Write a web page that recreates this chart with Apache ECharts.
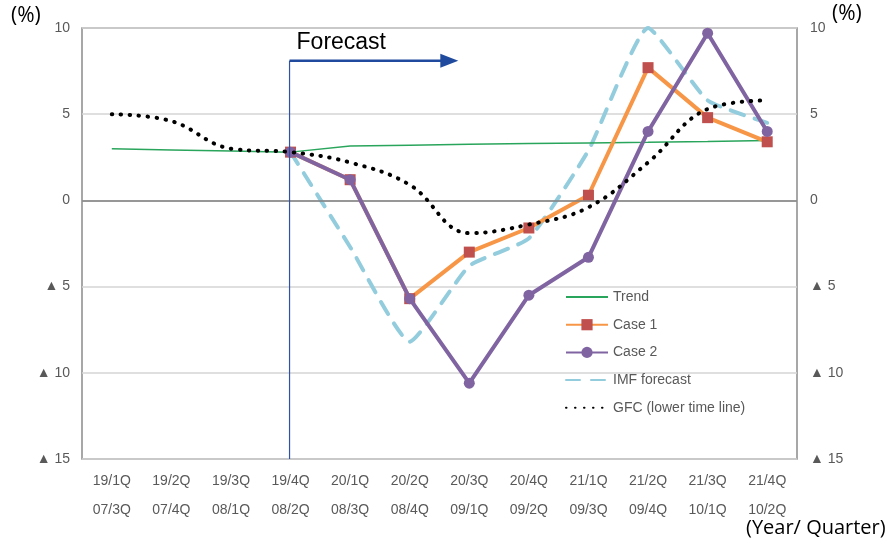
<!DOCTYPE html>
<html><head><meta charset="utf-8">
<script src="https://cdn.jsdelivr.net/npm/echarts@6/dist/echarts.min.js"></script>
<style>html,body{margin:0;padding:0;background:#fff}#c{width:895px;height:542px}</style>
</head><body><div id="c"></div>
<script>
const categories = ['19/1Q','19/2Q','19/3Q','19/4Q','20/1Q','20/2Q','20/3Q','20/4Q','21/1Q','21/2Q','21/3Q','21/4Q'];
const gfcQuarters = ['07/3Q','07/4Q','08/1Q','08/2Q','08/3Q','08/4Q','09/1Q','09/2Q','09/3Q','09/4Q','10/1Q','10/2Q'];
const trend = [3.0, 2.93, 2.87, 2.8, 3.15, 3.2, 3.25, 3.3, 3.33, 3.37, 3.42, 3.48];
const case1 = [null, null, null, 2.8, 1.2, -5.7, -3.0, -1.6, 0.3, 7.7, 4.8, 3.4];
const case2 = [null, null, null, 2.8, 1.2, -5.7, -10.6, -5.5, -3.3, 4.0, 9.7, 4.0];
const imf = [null, null, null, 2.8, -2.7, -8.2, -3.8, -2.2, 2.9, 10.0, 5.8, 4.5];
const gfc = [5.0, 4.6, 3.0, 2.8, 2.2, 0.9, -1.9, -1.4, -0.4, 2.2, 5.3, 5.8];
const yTicks = [-15, -10, -5, 0, 5, 10];

const FONT = '"Liberation Sans", Arial, sans-serif';
const FONT2 = '"Open Sans", sans-serif';
const fmtY = v => v < 0 ? '\u25B2 ' + (-v) : String(v);
const labelCats = categories.map((c, i) => c + '\n' + gfcQuarters[i]);

const chart = echarts.init(document.getElementById('c'));
const yAxisBase = {
  type: 'value', min: -15, max: 10, interval: 5,
  axisLine: {show: false}, axisTick: {show: false},
  splitLine: {show: true, lineStyle: {color: '#d4d4d4', width: 1.5}},
  axisLabel: {color: '#595959', fontSize: 14, fontFamily: FONT, formatter: fmtY}
};
chart.setOption({
  animation: false,
  grid: {left: 82, right: 98, top: 28, bottom: 83, show: true, borderColor: '#8a8a8a', borderWidth: 1.5},
  xAxis: {
    type: 'category', data: labelCats, boundaryGap: true,
    axisLine: {show: false}, axisTick: {show: false},
    axisLabel: {color: '#595959', fontSize: 14, fontFamily: FONT, lineHeight: 29, margin: 8, interval: 0}
  },
  yAxis: [
    Object.assign({}, yAxisBase, {position: 'left', axisLabel: Object.assign({}, yAxisBase.axisLabel, {margin: 12})}),
    Object.assign({}, yAxisBase, {position: 'right', splitLine: {show: false}, axisLabel: Object.assign({}, yAxisBase.axisLabel, {margin: 13})})
  ],
  legend: {
    orient: 'vertical', left: 560, top: 285, itemWidth: 42, itemHeight: 14, itemGap: 13.7,
    textStyle: {color: '#595959', fontSize: 14, fontFamily: FONT},
    data: [
      {name: 'Trend', itemStyle: {opacity: 0}},
      'Case 1', 'Case 2',
      {name: 'IMF forecast', itemStyle: {opacity: 0}},
      {name: 'GFC (lower time line)', itemStyle: {opacity: 0}}
    ]
  },
  series: [
    {name: 'Trend', type: 'line', data: trend, z: 3, showSymbol: false, symbol: 'none',
     lineStyle: {color: '#2aa55c', width: 1.5}, itemStyle: {color: '#2aa55c'},
     markLine: {silent: true, symbol: 'none', label: {show: false},
       lineStyle: {color: '#7f7f7f', width: 1.5, type: 'solid'}, data: [{yAxis: 0}]}},
    {name: 'Case 1', type: 'line', data: case1, z: 4, symbol: 'rect', symbolSize: 11,
     lineStyle: {color: '#f79646', width: 4}, itemStyle: {color: '#c0504d'}},
    {name: 'Case 2', type: 'line', data: case2, z: 5, symbol: 'circle', symbolSize: 11,
     lineStyle: {color: '#8064a2', width: 4}, itemStyle: {color: '#8064a2'}},
    {name: 'IMF forecast', type: 'line', data: imf, z: 2, symbol: 'none', smooth: 0.15,
     lineStyle: {color: '#93cddd', width: 4, type: [14, 11], cap: 'round'}, itemStyle: {color: '#93cddd'}},
    {name: 'GFC (lower time line)', type: 'line', data: gfc, z: 6, symbol: 'none', smooth: 0.4,
     lineStyle: {color: '#000', width: 4, type: [0.5, 8.5], cap: 'round'}, itemStyle: {color: '#000'}}
  ]
});

const fcTop = chart.convertToPixel({xAxisIndex: 0, yAxisIndex: 0}, [labelCats[3], 8.1]);
const fcBot = chart.convertToPixel({xAxisIndex: 0, yAxisIndex: 0}, [labelCats[3], -15]);
const fcEnd = chart.convertToPixel({xAxisIndex: 0, yAxisIndex: 0}, [labelCats[6], 8.1]);
const x0 = fcTop[0] - 1, y0 = fcTop[1];
const xEnd = fcEnd[0] - 11;
chart.setOption({
  graphic: [
    {type: 'line', shape: {x1: x0, y1: y0, x2: x0, y2: fcBot[1]}, style: {stroke: '#2f52a8', lineWidth: 1.2}, z: 100},
    {type: 'line', shape: {x1: x0, y1: y0, x2: xEnd - 16, y2: y0}, style: {stroke: '#1f4a9e', lineWidth: 2.5}, z: 100},
    {type: 'polygon', shape: {points: [[xEnd - 18, y0 - 7], [xEnd, y0], [xEnd - 18, y0 + 7]]}, style: {fill: '#1f4a9e'}, z: 100},
    {type: 'text', left: x0 + 7, top: 31, style: {text: 'Forecast', font: '23px ' + FONT, fill: '#000'}, z: 100},
    {type: 'text', left: 11, top: 6, style: {text: '(%)', font: '21px ' + FONT2, fill: '#000'}},
    {type: 'text', left: 832, top: 4, style: {text: '(%)', font: '21px ' + FONT2, fill: '#000'}},
    {type: 'text', left: 746, top: 518, style: {text: '(Year/ Quarter)', font: '20px ' + FONT2, fill: '#000'}}
  ]
});
</script>
</body></html>
